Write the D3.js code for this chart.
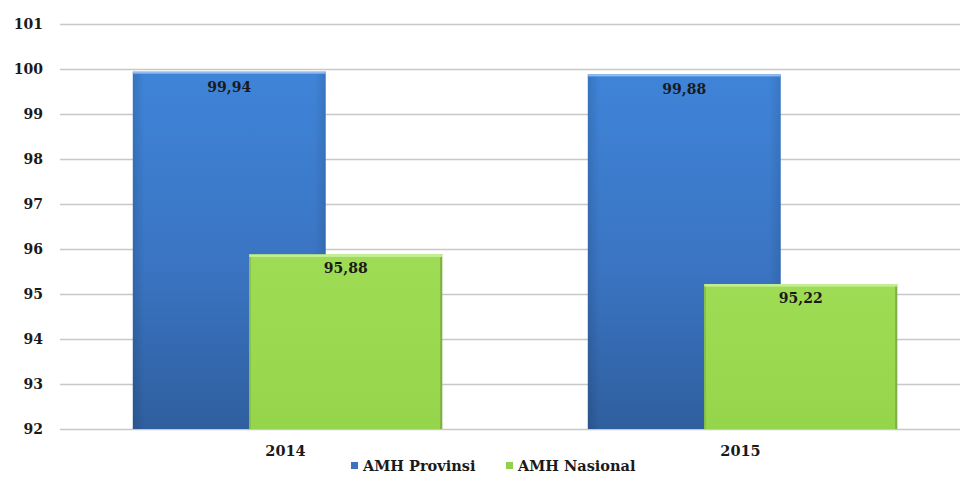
<!DOCTYPE html>
<html>
<head>
<meta charset="utf-8">
<script src="https://cdn.jsdelivr.net/npm/d3@7"></script>
<style>
  html, body { margin: 0; padding: 0; background: #fff; }
  svg { display: block; }
  text { font-family: "DejaVu Serif", "Liberation Serif", serif; font-weight: bold; fill: #1a1a1a; }
</style>
</head>
<body>
<div id="chart"></div>
<script>
// Adult literacy rate (AMH), province vs national
const years = ["2014", "2015"];
const seriesNames = ["AMH Provinsi", "AMH Nasional"];
const provinsi = [99.94, 99.88];
const nasional = [95.88, 95.22];
const valueLabels = { "AMH Provinsi": ["99,94", "99,88"], "AMH Nasional": ["95,88", "95,22"] };
const yTicks = [92, 93, 94, 95, 96, 97, 98, 99, 100, 101];

const W = 960, H = 482;
const svg = d3.select("#chart").append("svg").attr("width", W).attr("height", H);

const defs = svg.append("defs");
const gBlue = defs.append("linearGradient").attr("id", "gBlue").attr("x1", 0).attr("y1", 0).attr("x2", 0).attr("y2", 1);
gBlue.append("stop").attr("offset", "0%").attr("stop-color", "#3f84d8");
gBlue.append("stop").attr("offset", "55%").attr("stop-color", "#3a74c2");
gBlue.append("stop").attr("offset", "100%").attr("stop-color", "#2f5f9e");
const gBlueH = defs.append("linearGradient").attr("id", "gBlueH").attr("x1", 0).attr("y1", 0).attr("x2", 1).attr("y2", 0);
gBlueH.append("stop").attr("offset", "0%").attr("stop-color", "#000").attr("stop-opacity", 0.12);
gBlueH.append("stop").attr("offset", "6%").attr("stop-color", "#000").attr("stop-opacity", 0);
gBlueH.append("stop").attr("offset", "94%").attr("stop-color", "#000").attr("stop-opacity", 0);
gBlueH.append("stop").attr("offset", "100%").attr("stop-color", "#000").attr("stop-opacity", 0.1);
const gGreen = defs.append("linearGradient").attr("id", "gGreen").attr("x1", 0).attr("y1", 0).attr("x2", 0).attr("y2", 1);
gGreen.append("stop").attr("offset", "0%").attr("stop-color", "#9fdc55");
gGreen.append("stop").attr("offset", "100%").attr("stop-color", "#95d54b");

const plotLeft = 60, plotRight = 970;
const y = d3.scaleLinear().domain([92, 101]).range([429, 24]);
const x0 = d3.scaleBand().domain(years).range([plotLeft, plotRight]).padding(0);
const bw = x0.bandwidth();
const x1 = d3.scalePoint().domain(seriesNames).range([bw * 0.372, bw * 0.628]);
const barW = bw * 0.424;

// y axis with gridlines
const yAxis = d3.axisLeft(y).tickValues(yTicks).tickSize(0).tickPadding(0).tickFormat(d3.format("d"));
const gy = svg.append("g").attr("transform", `translate(${plotLeft},0)`).call(yAxis);
gy.select(".domain").remove();
gy.selectAll("text").attr("x", -17).attr("font-size", 14).attr("font-family", "DejaVu Serif").attr("font-weight", "bold").attr("fill", "#1a1a1a");
gy.selectAll(".tick").append("line")
  .attr("x1", 0).attr("x2", W - plotLeft).attr("stroke", "#c8c8c8").attr("stroke-width", 1.3);

const data = years.map((yr, i) => ({ year: yr, values: [
  { key: "AMH Provinsi", v: provinsi[i], label: valueLabels["AMH Provinsi"][i] },
  { key: "AMH Nasional", v: nasional[i], label: valueLabels["AMH Nasional"][i] }
]}));

const groups = svg.append("g").selectAll("g").data(data).join("g")
  .attr("transform", d => `translate(${x0(d.year)},0)`);

groups.each(function(d) {
  const g = d3.select(this);
  d.values.forEach(s => {
    const left = x1(s.key) - barW / 2;
    const top = y(s.v), h = y(92) - y(s.v);
    if (s.key === "AMH Provinsi") {
      g.append("rect").attr("x", left).attr("y", top).attr("width", barW).attr("height", h).attr("fill", "url(#gBlue)");
      g.append("rect").attr("x", left).attr("y", top).attr("width", barW).attr("height", h).attr("fill", "url(#gBlueH)");
      g.append("rect").attr("x", left).attr("y", top).attr("width", barW).attr("height", 2).attr("fill", "#8dbcf0");
      g.append("text").attr("x", x1(s.key)).attr("y", top + 20).attr("text-anchor", "middle")
        .attr("font-size", 14).attr("fill", "#14233a").text(s.label);
    } else {
      g.append("rect").attr("x", left).attr("y", top).attr("width", barW).attr("height", h).attr("fill", "url(#gGreen)");
      g.append("rect").attr("x", left + barW - 2).attr("y", top).attr("width", 2).attr("height", h).attr("fill", "#7fae45");
      g.append("rect").attr("x", left).attr("y", top).attr("width", 1.5).attr("height", h).attr("fill", "#86bf44");
      g.append("rect").attr("x", left).attr("y", top).attr("width", barW).attr("height", 2.5).attr("fill", "#c6ee98");
      g.append("text").attr("x", x1(s.key)).attr("y", top + 19).attr("text-anchor", "middle")
        .attr("font-size", 14).attr("fill", "#17300a").text(s.label);
    }
  });
});

// category axis labels
const xAxis = d3.axisBottom(x0).tickSize(0).tickPadding(0);
const gx = svg.append("g").attr("transform", `translate(0,${y(92)})`).call(xAxis);
gx.select(".domain").remove();
gx.selectAll("text").attr("dy", 0).attr("y", 27).attr("font-size", 14.5).attr("font-family", "DejaVu Serif").attr("font-weight", "bold").attr("fill", "#1a1a1a")
  .attr("transform", "translate(-2,0)");

// legend
const legendColors = { "AMH Provinsi": "#3d74bd", "AMH Nasional": "#92d050" };
const legendX = [351, 506];
const legend = svg.append("g").selectAll("g").data(seriesNames).join("g")
  .attr("transform", (d, i) => `translate(${legendX[i]},466)`);
legend.append("rect").attr("x", 0).attr("y", -4).attr("width", 7).attr("height", 7).attr("fill", d => legendColors[d]);
legend.append("text").attr("x", 12).attr("y", 5).attr("font-size", 14.5)
  .attr("font-family", "Liberation Serif").text(d => d);
</script>
</body>
</html>
